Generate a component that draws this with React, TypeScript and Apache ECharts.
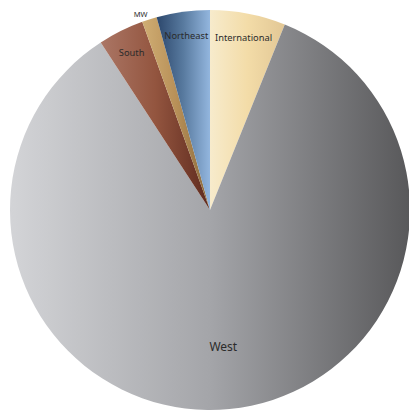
import React, { useEffect, useRef } from "react";
import * as echarts from "echarts";

const categories = ["International", "West", "South", "MW", "Northeast"];
const values = [6.1, 84.7, 3.7, 1.2, 4.3];
// gradient stops (left -> right) per slice
const gradients: [string, string, string][] = [
  ["#f7ebcc", "#f3dca8", "#e2c795"],
  ["#d3d4d7", "#a4a5a9", "#58585a"],
  ["#ab7665", "#93553f", "#5e2a1e"],
  ["#d0ae74", "#b89058", "#8a6a3c"],
  ["#2c476c", "#587a9f", "#93b6de"],
];

function grad(c: [string, string, string]) {
  return new echarts.graphic.LinearGradient(0, 0, 1, 0, [
    { offset: 0, color: c[0] },
    { offset: 0.5, color: c[1] },
    { offset: 1, color: c[2] },
  ]);
}

const FONT = "'Noto Sans', 'Open Sans', sans-serif";

export default function App() {
  const ref = useRef<HTMLDivElement>(null);
  useEffect(() => {
    if (!ref.current) return;
    const chart = echarts.init(ref.current, null, { renderer: "svg" });
    const center = [210, 210];
    const base = {
      type: "pie",
      center,
      startAngle: 90,
      clockwise: true,
      silent: true,
      avoidLabelOverlap: false,
      labelLine: { show: false },
      emphasis: { disabled: true },
    };
    const outerLabels = ["International", "South", "Northeast"];
    chart.setOption({
      animation: false,
      series: [
        {
          ...base,
          radius: [0, 200],
          label: { show: false },
          itemStyle: { borderWidth: 0 },
          data: categories.map((name, i) => ({
            name,
            value: values[i],
            itemStyle: { color: grad(gradients[i]) },
          })),
        },
        {
          ...base,
          radius: [146, 200],
          itemStyle: { color: "transparent", borderWidth: 0 },
          data: categories.map((name, i) => ({
            name,
            value: values[i],
            label: outerLabels.includes(name)
              ? {
                  show: true,
                  position: "inside",
                  formatter: "{b}",
                  color: "#2b2b2b",
                  fontSize: 9.3,
                  fontFamily: FONT,
                  rotate: 0,
                }
              : name === "MW"
              ? {
                  show: true,
                  position: "outside",
                  formatter: "{b}",
                  color: "#2b2b2b",
                  fontSize: 7.5,
                  fontFamily: FONT,
                  distanceToLabelLine: 0,
                  alignTo: "none",
                }
              : { show: false },
            labelLine: { show: false, length: 6, length2: 0 },
          })),
        },
        {
          ...base,
          radius: [68, 200],
          itemStyle: { color: "transparent", borderWidth: 0 },
          data: categories.map((name, i) => ({
            name,
            value: values[i],
            label:
              name === "West"
                ? {
                    show: true,
                    position: "inside",
                    formatter: "{b}",
                    color: "#2b2b2b",
                    fontSize: 12,
                    fontFamily: FONT,
                    rotate: 0,
                  }
                : { show: false },
          })),
        },
      ],
    });
    return () => chart.dispose();
  }, []);
  return (
    <div
      ref={ref}
      style={{ position: "absolute", left: 0, top: 0, width: 409, height: 413, background: "#fff" }}
    />
  );
}
